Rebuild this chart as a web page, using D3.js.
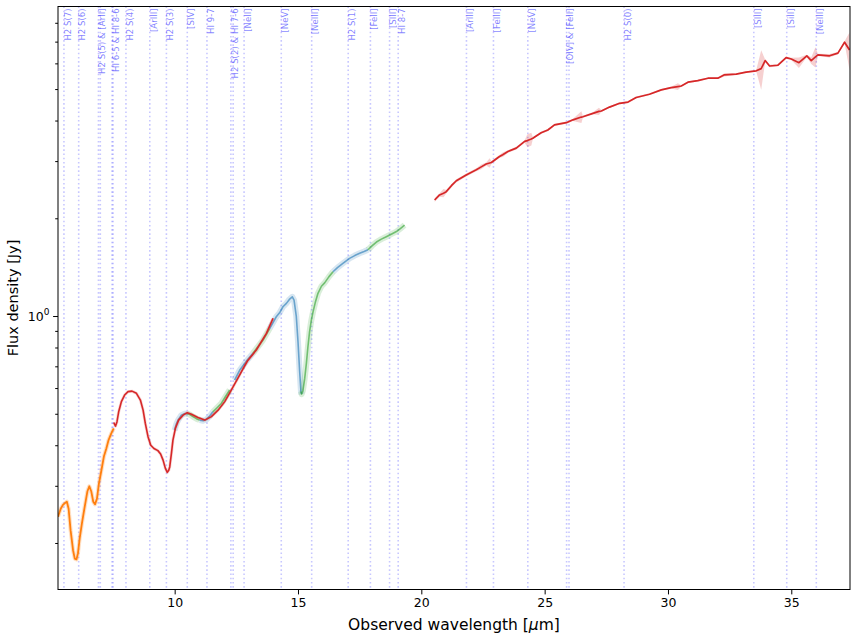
<!DOCTYPE html>
<html><head><meta charset="utf-8">
<script src="https://cdn.jsdelivr.net/npm/d3@7"></script>
<style>body{margin:0;background:#fff} svg{display:block} text{font-family:"DejaVu Sans",sans-serif}</style>
</head><body><svg id="chart" width="856" height="640"></svg>
<script>
// ---------------- data ----------------
const orangeWave = [5.27,5.38,5.47,5.54,5.63,5.70,5.78,5.88,5.95,6.02,6.08,6.15,6.24,6.35,6.46,6.54,6.62,6.70,6.77,6.85,6.93,7.03,7.13,7.23,7.32,7.43,7.53];
const orangeFlux = [0.241,0.255,0.262,0.265,0.268,0.255,0.219,0.190,0.179,0.178,0.186,0.207,0.230,0.258,0.288,0.299,0.288,0.268,0.263,0.274,0.305,0.335,0.369,0.391,0.415,0.435,0.451];

const red1Wave = [7.53,7.60,7.66,7.73,7.84,7.97,8.11,8.27,8.45,8.61,8.72,8.81,8.92,9.03,9.16,9.32,9.43,9.53,9.62,9.70,9.76,9.80,9.87,9.93,10.03,10.16,10.34,10.51,10.68,10.94,11.22,11.49,11.76,12.03,12.30,12.57,12.77,12.95,13.31,13.72,13.99];
const red1Flux = [0.470,0.458,0.472,0.507,0.545,0.571,0.585,0.587,0.578,0.551,0.513,0.467,0.425,0.400,0.391,0.385,0.376,0.360,0.340,0.330,0.335,0.343,0.378,0.415,0.451,0.478,0.495,0.504,0.498,0.487,0.478,0.490,0.513,0.545,0.592,0.645,0.688,0.727,0.786,0.884,0.984];

const mrsWave = [10.00,10.07,10.14,10.27,10.40,10.50,10.62,10.74,10.88,11.01,11.15,11.28,11.42,11.55,11.72,11.89,12.05,12.23,12.43,12.64,12.90,13.17,13.38,13.58,13.85,14.12,14.26,14.39,14.53,14.65,14.77,14.84,14.93,15.00,15.07,15.12,15.15,15.20,15.27,15.34,15.40,15.47,15.54,15.61,15.70,15.81,15.95,16.08,16.25,16.42,16.60,16.82,17.09,17.30,17.50,17.68,17.84,18.00,18.18,18.38,18.58,18.80,18.99,19.15,19.32];
const mrsFlux = [0.445,0.465,0.478,0.495,0.500,0.501,0.497,0.490,0.483,0.478,0.476,0.480,0.492,0.507,0.522,0.538,0.563,0.592,0.635,0.682,0.725,0.767,0.805,0.843,0.915,0.995,1.025,1.068,1.094,1.125,1.146,1.120,1.000,0.835,0.670,0.585,0.575,0.590,0.640,0.715,0.800,0.895,0.970,1.030,1.100,1.175,1.235,1.265,1.320,1.369,1.410,1.452,1.505,1.535,1.560,1.580,1.600,1.645,1.690,1.725,1.755,1.790,1.820,1.860,1.905];
const bandStarts = [10.00,10.50,11.01,11.55,12.30,13.17,13.85,15.12,16.42,17.84];
const bandEnds   = [10.50,11.01,11.55,12.30,13.17,13.85,15.15,16.42,17.84,19.32];
const bandSeries = ["blue","green","blue","green","blue","green","blue","green","blue","green"];

const red2Wave = [20.54,20.74,20.90,21.01,21.22,21.42,21.82,22.23,22.43,22.63,22.77,22.84,23.17,23.30,23.51,23.85,24.19,24.30,24.46,24.52,24.86,25.13,25.40,25.88,26.15,26.49,26.55,26.96,27.20,27.30,27.63,28.04,28.38,28.71,29.25,29.73,30.13,30.40,30.54,30.81,31.21,31.62,32.02,32.29,32.77,33.17,33.58,33.78,33.94,34.12,34.45,34.79,35.00,35.31,35.63,35.81,35.98,36.08,36.55,36.89,37.16,37.36];
const red2Flux = [2.277,2.36,2.39,2.416,2.52,2.61,2.72,2.82,2.88,2.94,2.96,2.97,3.10,3.14,3.21,3.29,3.45,3.47,3.51,3.53,3.67,3.74,3.88,3.94,4.02,4.10,4.11,4.21,4.27,4.28,4.40,4.52,4.56,4.71,4.82,4.97,5.05,5.09,5.11,5.25,5.31,5.40,5.40,5.53,5.56,5.64,5.69,5.78,6.12,5.89,5.92,6.25,6.19,6.03,6.33,6.12,6.28,6.37,6.33,6.45,6.97,6.60];
const red2Err  = [0.03,0.03,0.07,0.03,0.03,0.03,0.03,0.03,0.05,0.03,0.10,0.03,0.03,0.05,0.03,0.03,0.03,0.16,0.16,0.03,0.03,0.03,0.03,0.03,0.03,0.17,0.03,0.03,0.11,0.03,0.03,0.03,0.03,0.03,0.03,0.03,0.03,0.12,0.03,0.03,0.03,0.03,0.03,0.06,0.03,0.03,0.03,0.80,0.05,0.05,0.05,0.05,0.05,0.22,0.05,0.15,0.45,0.05,0.08,0.05,0.05,0.87];

const lineLabels = ["H2 S(7)","H2 S(6)","H2 S(5) & [ArII]","HI 6-5 & HI 8-6","H2 S(4)","[ArIII]","H2 S(3)","[SIV]","HI 9-7","H2 S(2) & HI 7-6","[NeII]","[NeV]","[NeIII]","H2 S(1)","[FeII]","[SIII]","HI 8-7","[ArIII]","[FeIII]","[NeV]","[OIV] & [FeII]","H2 S(0)","[SIII]","[SiII]","[NeIII]"];
const lineWaves = [[5.511],[6.109],[6.910,6.985],[7.460,7.502],[8.025],[8.991],[9.665],[10.511],[11.309],[12.279,12.372],[12.814],[14.322],[15.555],[17.035],[17.936],[18.713],[19.062],[21.830],[22.925],[24.318],[25.890,25.988],[28.219],[33.480],[34.815],[36.014]];

const xTicks = [10,15,20,25,30,35];
const yMajor = [1];
const yMinor = [0.2,0.3,0.4,0.5,0.6,0.7,0.8,0.9,2,3,4,5,6,7,8,9];

// ---------------- layout ----------------
const L = 58, R = 850, T = 6.5, B = 589.5;
const svg = d3.select("#chart");
const x = d3.scaleLinear().domain([5.27, 37.38]).range([L, R]);
const y = d3.scaleLog().domain([0.1438, 8.98]).range([B, T]);

svg.append("defs").append("clipPath").attr("id","clip")
  .append("rect").attr("x",L).attr("y",T).attr("width",R-L).attr("height",B-T);

const plot = svg.append("g").attr("clip-path","url(#clip)");

// emission line markers
const flatWaves = lineWaves.flat();
plot.selectAll("line.em").data(flatWaves).enter().append("line")
  .attr("x1", d=>x(d)).attr("x2", d=>x(d)).attr("y1", T).attr("y2", B)
  .attr("stroke","#0000ff").attr("stroke-opacity",0.22).attr("stroke-width",1.6)
  .attr("stroke-dasharray","1.6,2.6");

const line = d3.line().x(d=>x(d[0])).y(d=>y(d[1])).curve(d3.curveLinear);
const zip = (a,b)=>a.map((v,i)=>[v,b[i]]);

function drawSeries(pts, color, w, haloW, haloOp, lineOp){
  plot.append("path").attr("d", line(pts)).attr("fill","none")
    .attr("stroke",color).attr("stroke-opacity",haloOp).attr("stroke-width",haloW)
    .attr("stroke-linejoin","round").attr("stroke-linecap","butt");
  plot.append("path").attr("d", line(pts)).attr("fill","none")
    .attr("stroke",color).attr("stroke-opacity",lineOp).attr("stroke-width",w)
    .attr("stroke-linejoin","round");
}

const C = {blue:"#1f77b4", orange:"#ff7f0e", green:"#2ca02c", red:"#d62728"};

// MRS bands (blue / green alternating)
const mrsPts = zip(mrsWave, mrsFlux);
bandSeries.forEach((s,i)=>{
  const pts = mrsPts.filter(p=>p[0]>=bandStarts[i]-1e-6 && p[0]<=bandEnds[i]+1e-6);
  drawSeries(pts, C[s], 1.6, 6, 0.18, 0.6);
});

// orange
drawSeries(zip(orangeWave, orangeFlux), C.orange, 1.8, 4, 0.25, 1);
// red 1
drawSeries(zip(red1Wave, red1Flux), C.red, 1.6, 3, 0.2, 1);

// red 2 with error band
const r2 = red2Wave.map((w,i)=>({w, f:red2Flux[i], e:red2Err[i]}));
plot.append("path").datum(r2)
  .attr("d", d3.area().x(d=>x(d.w)).y0(d=>y(Math.max(d.f-d.e,0.01))).y1(d=>y(d.f+d.e)))
  .attr("fill",C.red).attr("fill-opacity",0.22);
plot.append("path").attr("d", line(zip(red2Wave, red2Flux))).attr("fill","none")
  .attr("stroke",C.red).attr("stroke-width",1.7).attr("stroke-linejoin","round");

// labels
svg.append("g").selectAll("text").data(lineLabels).enter().append("text")
  .attr("transform",(d,i)=>`translate(${x(lineWaves[i][0])+6.8},${T+1.8}) rotate(-90)`)
  .attr("text-anchor","end").attr("font-size","8.6px")
  .attr("fill","#0000ff").attr("fill-opacity",0.5).text(d=>d);

// frame
svg.append("rect").attr("x",L).attr("y",T).attr("width",R-L).attr("height",B-T)
  .attr("fill","none").attr("stroke","#000").attr("stroke-width",1);

// x axis
const xa = svg.append("g").attr("transform",`translate(0,${B})`)
  .call(d3.axisBottom(x).tickValues(xTicks).tickSize(4.9).tickPadding(4).tickFormat(d3.format("d")));
xa.select(".domain").remove();
xa.selectAll("text").attr("font-size","12.5px").attr("font-family","DejaVu Sans").attr("fill","#000");
xa.selectAll("line").attr("stroke","#000");

// y axis major
const ya = svg.append("g").attr("transform",`translate(${L},0)`)
  .call(d3.axisLeft(y).tickValues(yMajor).tickSize(4.9).tickFormat(()=>""));
ya.select(".domain").remove();
ya.selectAll("line").attr("stroke","#000");
const yMinorIn = yMinor.filter(v=>v>=y.domain()[0] && v<=y.domain()[1]);
const ym = svg.append("g").attr("transform",`translate(${L},0)`)
  .call(d3.axisLeft(y).tickValues(yMinorIn).tickSize(2.8).tickFormat(()=>""));
ym.select(".domain").remove();
ym.selectAll("line").attr("stroke","#000");

yMajor.forEach(v=>{
  const t = svg.append("text").attr("x", L-8.5).attr("y", y(v)+4.5)
    .attr("text-anchor","end").attr("font-size","12.5px").attr("fill","#000");
  t.append("tspan").text("10");
  t.append("tspan").attr("dy",-6).attr("font-size","9px").text(Math.round(Math.log10(v)));
});

// axis titles
const xt = svg.append("text").attr("x",(L+R)/2).attr("y",630).attr("text-anchor","middle")
  .attr("font-size","15.5px").attr("fill","#000");
xt.append("tspan").text("Observed wavelength [");
xt.append("tspan").attr("font-style","italic").text("μ");
xt.append("tspan").text("m]");

svg.append("text").attr("transform",`translate(18,${(T+B)/2}) rotate(-90)`)
  .attr("text-anchor","middle").attr("font-size","14.5px").attr("fill","#000")
  .text("Flux density [Jy]");
</script></body></html>
